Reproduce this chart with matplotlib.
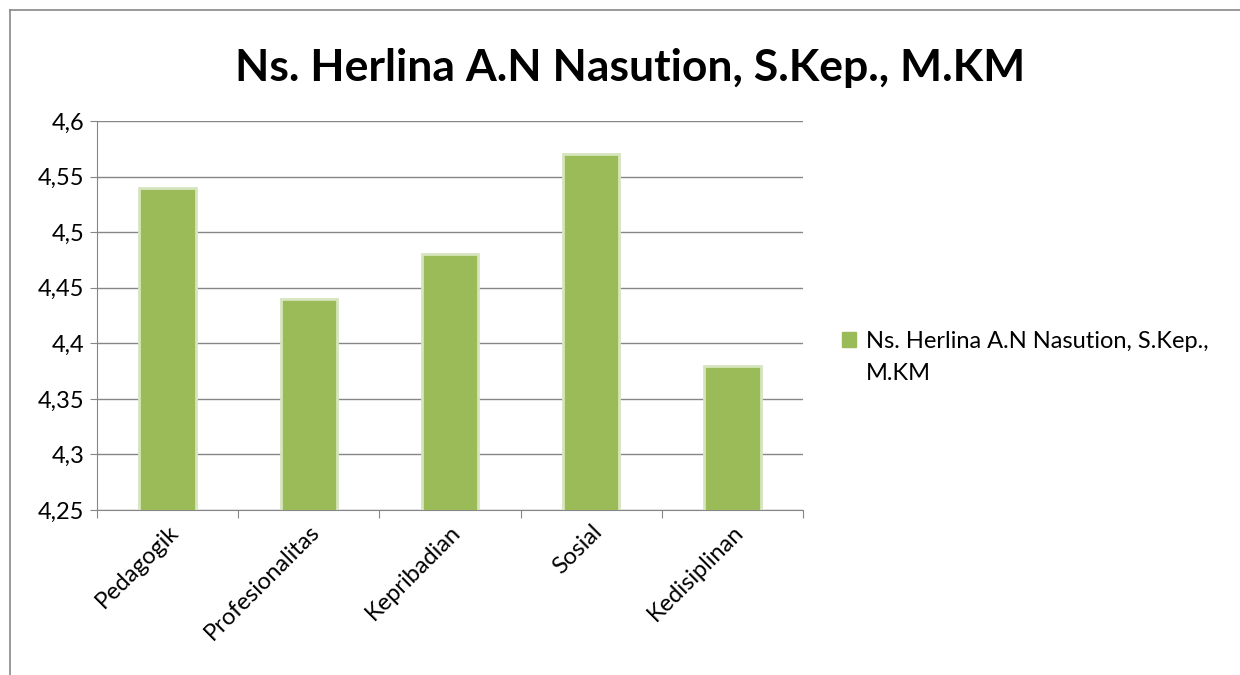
"""Bar chart: teacher evaluation scores."""

import matplotlib
matplotlib.use('Agg')
import matplotlib.pyplot as plt
from matplotlib.lines import Line2D
from matplotlib.patches import Rectangle
from matplotlib.ticker import FuncFormatter, MultipleLocator
import numpy as np

plt.rcParams['font.family'] = ['Lato', 'DejaVu Sans']

title = "Ns. Herlina A.N Nasution, S.Kep., M.KM"
series_label = ["Ns. Herlina A.N Nasution, S.Kep.,", "M.KM"]
categories = ["Pedagogik", "Profesionalitas", "Kepribadian", "Sosial", "Kedisiplinan"]
values = [4.54, 4.44, 4.48, 4.57, 4.38]

bar_color = "#9BBB59"
grid_color = "#868686"

fig = plt.figure(figsize=(12.4, 6.75), dpi=100)
ax = fig.add_axes([97 / 1240, 1 - 510 / 675, 706 / 1240, 389 / 675])

# outer chart border: only top and left edges are inside the image
bx, by = 10 / 1240, 1 - 10 / 675
fig.add_artist(Line2D([bx, 1], [by, by], transform=fig.transFigure,
                      color="#888888", linewidth=1.2))
fig.add_artist(Line2D([bx, bx], [0, by], transform=fig.transFigure,
                      color="#888888", linewidth=1.2))

x = np.arange(len(categories))
ax.bar(x, values, width=0.4, color=bar_color, zorder=3,
       edgecolor="#d6e5bd", linewidth=2)

ax.set_ylim(4.25, 4.6)
ax.set_xlim(-0.5, len(categories) - 0.5)
ax.yaxis.set_major_locator(MultipleLocator(0.05))
ax.yaxis.set_major_formatter(FuncFormatter(
    lambda v, _: f"{v:.2f}".rstrip("0").rstrip(".").replace(".", ",")))
ax.grid(axis="y", color=grid_color, linewidth=1, zorder=0)

ax.set_xticks(np.arange(len(categories) + 1) - 0.5)
ax.set_xticklabels([])
ax.set_xticks(x, minor=True)
ax.set_xticklabels(categories, minor=True, rotation=45, ha="right",
                   rotation_mode="anchor", fontsize=17)
ax.tick_params(axis="x", which="minor", length=0, pad=8)
ax.tick_params(axis="x", which="major", length=6, color=grid_color)
ax.tick_params(axis="y", length=5, color=grid_color, labelsize=17, pad=4)

for side in ["top", "right"]:
    ax.spines[side].set_visible(False)
for side in ["left", "bottom"]:
    ax.spines[side].set_color(grid_color)

fig.text(630 / 1240, 1 - 68 / 675, title, ha="center", va="center",
         fontsize=32, fontweight="bold")

# legend: marker beside the first line, label wraps onto a second line
handle = Rectangle((0, 0), 1, 1, color=bar_color)
leg = fig.legend([handle], [series_label[0]], loc="upper left",
                 bbox_to_anchor=(821 / 1240, 1 - 310 / 675), frameon=False,
                 fontsize=17, handlelength=0.6, handleheight=0.6,
                 handletextpad=0.4)
fig.text(866 / 1240, 1 - 374 / 675, series_label[1], ha="left", va="center",
         fontsize=17)

fig.savefig("out.png", dpi=100, facecolor="white")
